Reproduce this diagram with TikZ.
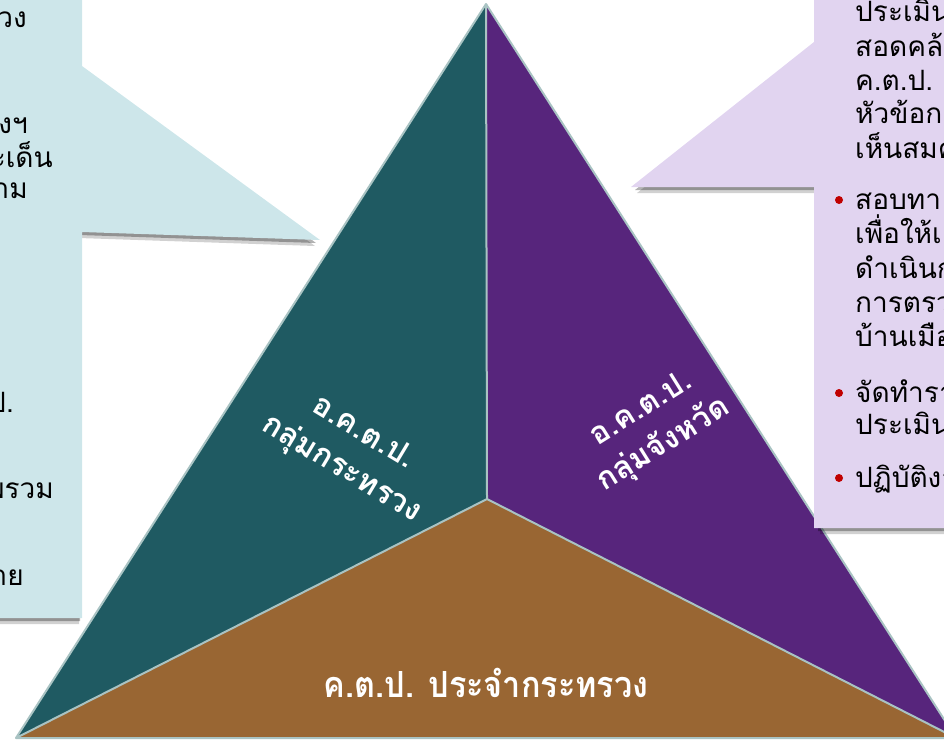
\documentclass[tikz,border=0pt]{standalone}
\usepackage{fontspec}
\newfontfamily\thaifont[Script=Thai]{Loma}
\definecolor{tealA}{HTML}{1F5A62}
\definecolor{purpA}{HTML}{57257C}
\definecolor{brownA}{HTML}{996633}
\definecolor{edgeA}{HTML}{A9C3C3}
\definecolor{blueBox}{HTML}{CDE6EA}
\definecolor{lilacBox}{HTML}{E1D4F0}
\definecolor{bulletRed}{HTML}{C00000}
\tikzset{
  edgeline/.style={draw=edgeA, line width=2pt, line join=round},
  boxtext/.style={font=\thaifont\fontsize{28}{28}\selectfont, text=black, inner sep=0pt},
  lefttext/.style={boxtext, anchor=base east},
  righttext/.style={boxtext, anchor=base west},
  tritext/.style={font=\thaifont\bfseries\fontsize{31}{42}\selectfont, text=white, align=center, inner sep=0pt},
  bulletdot/.style={fill=bulletRed, draw=none, circle, minimum size=8pt, inner sep=0pt},
  shadowA/.style={fill=black, opacity=0.30, draw=none},
  shadowB/.style={fill=black, opacity=0.18, draw=none}
}
\begin{document}
\begin{tikzpicture}[x=1pt,y=-1pt]
\useasboundingbox (0,0) rectangle (944,742);
\clip (0,0) rectangle (944,742);
% triangle
\coordinate (A) at (486,4);
\coordinate (O) at (487,499);
\coordinate (BL) at (16,738);
\coordinate (BR) at (956,738);
\fill[tealA] (A) -- (O) -- (BL) -- cycle;
\fill[purpA] (A) -- (BR) -- (O) -- cycle;
\fill[brownA] (BL) -- (O) -- (BR) -- cycle;
\draw[edgeline] (A) -- (O) (O) -- (BL) (O) -- (BR);
\draw[edgeline] (A) -- (BL) -- (BR) -- cycle;
% left callout
\begin{scope}[shift={(-2,3)}]
\fill[shadowA] (-10,-10) -- (82,-10) -- (82,66) -- (318,240) -- (82,232) -- (82,618) -- (-10,618) -- cycle;
\end{scope}
\begin{scope}[shift={(-3,6)}]
\fill[shadowB] (-10,-10) -- (82,-10) -- (82,66) -- (318,240) -- (82,232) -- (82,618) -- (-10,618) -- cycle;
\end{scope}
\fill[blueBox] (-10,-10) -- (82,-10) -- (82,66) -- (320,240) -- (82,232) -- (82,618) -- (-10,618) -- cycle;
% right callout
\begin{scope}[shift={(4,3)}]
\fill[shadowA] (814,-10) -- (960,-10) -- (960,528) -- (814,528) -- (814,187) -- (631,187) -- (814,42) -- cycle;
\end{scope}
\begin{scope}[shift={(6,6)}]
\fill[shadowB] (814,-10) -- (960,-10) -- (960,528) -- (814,528) -- (814,187) -- (631,187) -- (814,42) -- cycle;
\end{scope}
\fill[lilacBox] (814,-10) -- (960,-10) -- (960,528) -- (814,528) -- (814,187) -- (631,187) -- (814,42) -- cycle;
% left box text fragments
\node[lefttext] (l1) at (27,27) {วง};
\node[lefttext] (l2) at (28,133) {งฯ};
\node[lefttext] (l3) at (53,167) {ะเด็น};
\node[lefttext] (l4) at (28,198) {าม};
\node[lefttext] (l5) at (14,412) {ป.};
\node[lefttext] (l6) at (54,498) {พรวม};
\node[lefttext] (l7) at (24,585) {าย};
% right box text
\node[righttext] (r1) at (855,21) {ประเมิน};
\node[righttext] (r2) at (855,56) {สอดคล้};
\node[righttext] (r3) at (855,90) {ค.ต.ป.};
\node[righttext] (r4) at (855,123) {หัวข้อกา};
\node[righttext] (r5) at (855,158) {เห็นสมค};
\node[bulletdot] (b1) at (839,200) {};
\node[righttext] (r6) at (855,209) {สอบทา};
\node[righttext] (r7) at (855,243) {เพื่อให้เ};
\node[righttext] (r8) at (855,278) {ดำเนินก};
\node[righttext] (r9) at (855,312) {การตรว};
\node[righttext] (r10) at (855,346) {บ้านเมือ};
\node[bulletdot] (b2) at (839,393) {};
\node[righttext] (r11) at (855,402) {จัดทำรา};
\node[righttext] (r12) at (855,434) {ประเมิน};
\node[bulletdot] (b3) at (839,478) {};
\node[righttext] (r13) at (855,487) {ปฏิบัติงา};
% triangle labels
\node[tritext, rotate=-31] (tl) at (352,452) {อ.ค.ต.ป.\\กลุ่มกระทรวง};
\node[tritext, rotate=32] (tr) at (653,428) {อ.ค.ต.ป.\\กลุ่มจังหวัด};
\node[font=\thaifont\bfseries\fontsize{36}{36}\selectfont, text=white, inner sep=0pt] (bot) at (486,683) {\scalebox{0.9}[1]{ค.ต.ป. ประจำกระทรวง}};
\end{tikzpicture}
\end{document}
